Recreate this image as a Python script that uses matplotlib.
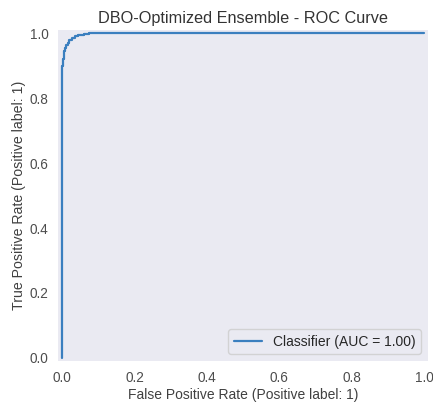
import numpy as np
import matplotlib
matplotlib.use("Agg")
import matplotlib.pyplot as plt
import seaborn as sns

# ROC points
fpr = [0.0, 0.0, 0.0, 0.002, 0.002, 0.004, 0.004, 0.006, 0.006, 0.008, 0.008,
       0.011, 0.011, 0.015, 0.015, 0.02, 0.02, 0.027, 0.027, 0.036, 0.036,
       0.045, 0.045, 0.06, 0.06, 0.075, 0.075, 1.0]
tpr = [0.0, 0.88, 0.9, 0.9, 0.92, 0.92, 0.935, 0.935, 0.945, 0.945, 0.955,
       0.955, 0.963, 0.963, 0.972, 0.972, 0.98, 0.98, 0.987, 0.987, 0.992,
       0.992, 0.996, 0.996, 0.998, 0.998, 1.0, 1.0]
auc_label = "Classifier (AUC = 1.00)"

sns.set_style("dark")
plt.rcParams['font.family'] = ['Liberation Sans', 'DejaVu Sans']

fig = plt.figure(figsize=(4.33, 4.03), dpi=100)
ax = fig.add_axes([0.135, 0.104, 0.853, 0.821])

ax.plot(fpr, tpr, color="#3b7fbf", lw=1.6, label=auc_label)
ax.set_xlim(-0.01, 1.01)
ax.set_ylim(-0.01, 1.01)
ax.set_xticks(np.arange(0, 1.01, 0.2))
ax.set_yticks(np.arange(0, 1.01, 0.2))
ax.tick_params(labelsize=9.8, colors=".3")
ax.set_xlabel("False Positive Rate (Positive label: 1)", fontsize=10, color=".25", labelpad=2)
ax.set_ylabel("True Positive Rate (Positive label: 1)", fontsize=10.2, color=".25", labelpad=3)
ax.set_title("DBO-Optimized Ensemble - ROC Curve", fontsize=11.7, color=".2", pad=5)
for s in ax.spines.values():
    s.set_visible(False)
ax.legend(loc="lower right", fontsize=10, frameon=True)

fig.savefig("out.png", dpi=100)
